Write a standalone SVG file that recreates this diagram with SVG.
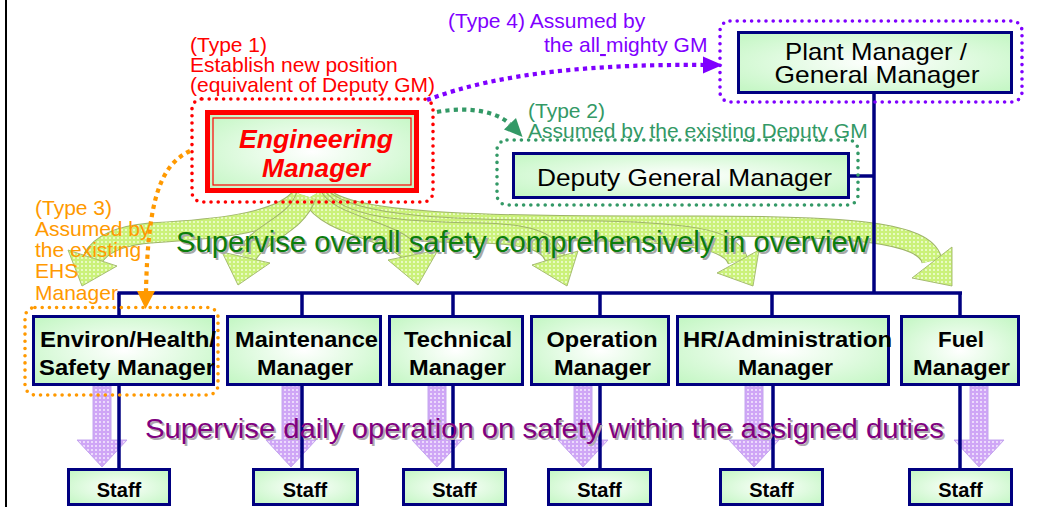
<svg xmlns="http://www.w3.org/2000/svg" xmlns:xlink="http://www.w3.org/1999/xlink" width="1053" height="507" viewBox="0 0 1053 507">
  <style>
    text { font-family: "Liberation Sans", Arial, sans-serif; }
    .box { fill: url(#boxFill); stroke: #000080; stroke-width: 3; }
    .lbl { font-size: 22px; font-weight: bold; fill: #000; }
    .staff { font-size: 20px; font-weight: bold; fill: #000; text-anchor: middle; }
    .mid { text-anchor: middle; }
    .wire { stroke: #000080; stroke-width: 3.5; fill: none; }
    .note { font-size: 21px; }
    .ring { fill: none; stroke-width: 3.6; stroke-linecap: round; stroke-dasharray: 0 7.2; }
    .dash { fill: none; stroke-width: 4.2; stroke-dasharray: 4.2 4.2; }
    .gbody-o { fill: none; stroke: #9fb56a; stroke-width: 21; }
    .gbody { fill: none; stroke: url(#greenDots); stroke-width: 19; }
    .ghead { fill: url(#greenDots); stroke: #9fb56a; stroke-width: 0.9; stroke-linejoin: round; }
    .lav { fill: url(#lavDots); stroke: #c4a6ee; stroke-width: 1; }
  </style>
  <defs>
    <radialGradient id="boxFill" cx="50%" cy="50%" r="65%">
      <stop offset="0" stop-color="#ffffff"/>
      <stop offset="1" stop-color="#c6f7c6"/>
    </radialGradient>
    <pattern id="greenDots" width="4" height="4" patternUnits="userSpaceOnUse">
      <rect width="4" height="4" fill="#cbf17a"/>
      <circle cx="2" cy="2" r="1" fill="#f2ffdc"/>
    </pattern>
    <pattern id="lavDots" width="4" height="4" patternUnits="userSpaceOnUse">
      <rect width="4" height="4" fill="#cfa6f6"/>
      <circle cx="2" cy="2" r="1" fill="#f6ecff"/>
    </pattern>
    <!-- downward block arrow, centred on x = 0 -->
    <path id="downArrow" d="M -9,386 L 9,386 L 9,440 L 25,440 L 0,467 L -25,440 L -9,440 Z"/>
  </defs>

  <!-- page edge -->
  <line x1="6" y1="0" x2="6" y2="507" stroke="#000" stroke-width="2"/>

  <!-- broad "overall safety" arrows fanning out from the engineering manager -->
  <g id="overall-arrows">
    <path class="gbody-o" d="M 322,196 C 350,226 500,226 700,226 C 850,226 926,232 932,261"/>
    <path class="gbody" d="M 322,196 C 350,226 500,226 700,226 C 850,226 926,232 932,261"/>
    <polygon class="ghead" points="912,278 952,247 952,286"/>
    <path class="gbody-o" d="M 319,196 C 350,228 450,230 600,231 C 700,233 732,242 738,261"/>
    <path class="gbody" d="M 319,196 C 350,228 450,230 600,231 C 700,233 732,242 738,261"/>
    <polygon class="ghead" points="717,273 759,250 753,286"/>
    <path class="gbody-o" d="M 316,196 C 340,228 400,232 480,233 C 530,234 550,242 555,258"/>
    <path class="gbody" d="M 316,196 C 340,228 400,232 480,233 C 530,234 550,242 555,258"/>
    <polygon class="ghead" points="532,265 578,251 567,286"/>
    <path class="gbody-o" d="M 312,196 C 330,228 392,228 413,255"/>
    <path class="gbody" d="M 312,196 C 330,228 392,228 413,255"/>
    <polygon class="ghead" points="388,260 438,250 418,285"/>
    <path class="gbody-o" d="M 302,196 C 280,226 200,230 150,233 C 115,236 100,246 93,258"/>
    <path class="gbody" d="M 302,196 C 280,226 200,230 150,233 C 115,236 100,246 93,258"/>
    <polygon class="ghead" points="68,250 117,266 82,286"/>
    <path class="gbody-o" d="M 306,196 C 296,226 258,232 246,257"/>
    <path class="gbody" d="M 306,196 C 296,226 258,232 246,257"/>
    <polygon class="ghead" points="222,252 270,263 238,285"/>
  </g>

  <!-- daily-operation arrows from each manager to staff -->
  <g id="daily-arrows">
    <use href="#downArrow" class="lav" x="102"/>
    <use href="#downArrow" class="lav" x="291"/>
    <use href="#downArrow" class="lav" x="437"/>
    <use href="#downArrow" class="lav" x="583"/>
    <use href="#downArrow" class="lav" x="754"/>
    <use href="#downArrow" class="lav" x="979"/>
  </g>

  <!-- reporting lines -->
  <g id="connectors">
    <line class="wire" x1="874" y1="94" x2="874" y2="293"/>
    <line class="wire" x1="850" y1="176" x2="874" y2="176"/>
    <line class="wire" x1="117.5" y1="293" x2="962" y2="293"/>
    <line class="wire" x1="119" y1="293" x2="119" y2="316"/>
    <line class="wire" x1="302" y1="293" x2="302" y2="316"/>
    <line class="wire" x1="453" y1="293" x2="453" y2="316"/>
    <line class="wire" x1="600" y1="293" x2="600" y2="316"/>
    <line class="wire" x1="772" y1="293" x2="772" y2="316"/>
    <line class="wire" x1="960" y1="293" x2="960" y2="316"/>
    <line class="wire" x1="119" y1="385" x2="119" y2="469"/>
    <line class="wire" x1="302" y1="385" x2="302" y2="469"/>
    <line class="wire" x1="453" y1="385" x2="453" y2="469"/>
    <line class="wire" x1="600" y1="385" x2="600" y2="469"/>
    <line class="wire" x1="773" y1="385" x2="773" y2="469"/>
    <line class="wire" x1="960" y1="385" x2="960" y2="469"/>
  </g>

  <!-- top management -->
  <g id="plant-manager">
    <rect class="box" x="738.5" y="32.5" width="273" height="60"/>
    <text class="mid" x="876" y="60" font-size="24" textLength="182" lengthAdjust="spacingAndGlyphs">Plant Manager /</text>
    <text class="mid" x="877" y="83" font-size="24" textLength="205" lengthAdjust="spacingAndGlyphs">General Manager</text>
  </g>
  <g id="deputy-gm">
    <rect class="box" x="513.5" y="153.5" width="335" height="44"/>
    <text x="537" y="186" font-size="24" textLength="295" lengthAdjust="spacingAndGlyphs">Deputy General Manager</text>
  </g>
  <g id="engineering-manager">
    <rect x="207.5" y="112.5" width="209" height="78" fill="url(#boxFill)" stroke="#ff0000" stroke-width="5"/>
    <rect x="213" y="118" width="198" height="67" fill="none" stroke="#ff0000" stroke-width="1.2"/>
    <text class="mid" x="316" y="148" font-size="26" font-weight="bold" font-style="italic" fill="#ff0000" textLength="154" lengthAdjust="spacingAndGlyphs">Engineering</text>
    <text class="mid" x="316" y="177" font-size="26" font-weight="bold" font-style="italic" fill="#ff0000" textLength="108" lengthAdjust="spacingAndGlyphs">Manager</text>
  </g>

  <!-- department managers -->
  <g id="ehs-manager">
    <rect class="box" x="33.5" y="316.5" width="180" height="68"/>
    <text class="lbl" x="40" y="347" textLength="176" lengthAdjust="spacingAndGlyphs">Environ/Health/</text>
    <text class="lbl" x="39" y="375" textLength="176" lengthAdjust="spacingAndGlyphs">Safety Manager</text>
  </g>
  <g id="maintenance-manager">
    <rect class="box" x="227.5" y="316.5" width="153" height="68"/>
    <text class="lbl mid" x="306.5" y="347" textLength="143" lengthAdjust="spacingAndGlyphs">Maintenance</text>
    <text class="lbl mid" x="305" y="375" textLength="96" lengthAdjust="spacingAndGlyphs">Manager</text>
  </g>
  <g id="technical-manager">
    <rect class="box" x="389.5" y="316.5" width="133" height="68"/>
    <text class="lbl mid" x="458" y="347" textLength="108" lengthAdjust="spacingAndGlyphs">Technical</text>
    <text class="lbl mid" x="457.5" y="375" textLength="97" lengthAdjust="spacingAndGlyphs">Manager</text>
  </g>
  <g id="operation-manager">
    <rect class="box" x="531.5" y="316.5" width="137" height="68"/>
    <text class="lbl mid" x="602" y="347" textLength="111" lengthAdjust="spacingAndGlyphs">Operation</text>
    <text class="lbl mid" x="602.5" y="375" textLength="97" lengthAdjust="spacingAndGlyphs">Manager</text>
  </g>
  <g id="hr-admin-manager">
    <rect class="box" x="677.5" y="316.5" width="211" height="68"/>
    <text class="lbl mid" x="787.5" y="347" textLength="209" lengthAdjust="spacingAndGlyphs">HR/Administration</text>
    <text class="lbl mid" x="785.5" y="375" textLength="95" lengthAdjust="spacingAndGlyphs">Manager</text>
  </g>
  <g id="fuel-manager">
    <rect class="box" x="901.5" y="316.5" width="117" height="68"/>
    <text class="lbl mid" x="961" y="347" textLength="46" lengthAdjust="spacingAndGlyphs">Fuel</text>
    <text class="lbl mid" x="961.5" y="375" textLength="97" lengthAdjust="spacingAndGlyphs">Manager</text>
  </g>

  <!-- staff -->
  <g id="staff-1"><rect class="box" x="68.5" y="469.5" width="101" height="35"/><text class="staff" x="119" y="497">Staff</text></g>
  <g id="staff-2"><rect class="box" x="253.5" y="469.5" width="104" height="35"/><text class="staff" x="305" y="497">Staff</text></g>
  <g id="staff-3"><rect class="box" x="403.5" y="469.5" width="102" height="35"/><text class="staff" x="454.5" y="497">Staff</text></g>
  <g id="staff-4"><rect class="box" x="548.5" y="469.5" width="102" height="35"/><text class="staff" x="599.5" y="497">Staff</text></g>
  <g id="staff-5"><rect class="box" x="720.5" y="469.5" width="102" height="35"/><text class="staff" x="771.5" y="497">Staff</text></g>
  <g id="staff-6"><rect class="box" x="909.5" y="469.5" width="102" height="35"/><text class="staff" x="960.5" y="497">Staff</text></g>

  <!-- arrow captions -->
  <g id="overall-caption">
    <text x="178" y="254" font-size="29" fill="#a8a8a8" textLength="693" lengthAdjust="spacingAndGlyphs">Supervise overall safety comprehensively in overview</text>
    <text x="176" y="252" font-size="29" fill="#0b7d0b" textLength="693" lengthAdjust="spacingAndGlyphs">Supervise overall safety comprehensively in overview</text>
  </g>
  <g id="daily-caption">
    <text x="147" y="440" font-size="28" fill="#b0a8b0" textLength="799" lengthAdjust="spacingAndGlyphs">Supervise daily operation on safety within the assigned duties</text>
    <text x="145" y="438" font-size="28" fill="#800080" textLength="799" lengthAdjust="spacingAndGlyphs">Supervise daily operation on safety within the assigned duties</text>
  </g>

  <!-- option 1: new post -->
  <g id="type1">
    <rect class="ring" x="192" y="99" width="241" height="103" rx="10" stroke="#ff0000"/>
    <text class="note" fill="#ff0000" x="190" y="52">(Type 1)</text>
    <text class="note" fill="#ff0000" x="190" y="72">Establish new position</text>
    <text class="note" fill="#ff0000" x="190" y="92">(equivalent of Deputy GM)</text>
  </g>

  <!-- option 2: deputy GM -->
  <g id="type2">
    <rect class="ring" x="497" y="140" width="361" height="65" rx="10" stroke="#339966"/>
    <path class="dash" stroke="#339966" d="M 437,112 C 470,106 497,112 510,124"/>
    <polygon fill="#339966" points="504,129.5 516,118 522.5,137"/>
    <text class="note" fill="#339966" x="528" y="118">(Type 2)</text>
    <text class="note" fill="#339966" x="528" y="138">Assumed by the existing Deputy GM</text>
  </g>

  <!-- option 3: EHS manager -->
  <g id="type3">
    <rect class="ring" x="25" y="307.5" width="193" height="87.5" rx="10" stroke="#ff9900"/>
    <path class="dash" stroke="#ff9900" d="M 190,151 C 160,165 148,200 146,291"/>
    <polygon fill="#ff9900" points="137,291 155,291 145.5,309"/>
    <text class="note" fill="#ff9900" x="35" y="215">(Type 3)</text>
    <text class="note" fill="#ff9900" x="35" y="236">Assumed by</text>
    <text class="note" fill="#ff9900" x="35" y="257">the existing</text>
    <text class="note" fill="#ff9900" x="35" y="278">EHS</text>
    <text class="note" fill="#ff9900" x="35" y="300">Manager</text>
  </g>

  <!-- option 4: general manager -->
  <g id="type4">
    <rect class="ring" x="720" y="21" width="302" height="81" rx="10" stroke="#7f00ff"/>
    <path class="dash" stroke="#7f00ff" d="M 427,100 C 500,72 600,64 704,65"/>
    <polygon fill="#7f00ff" points="703,56.5 722.5,65 703,73.5"/>
    <text class="note" fill="#7f00ff" x="448" y="28">(Type 4) Assumed by</text>
    <text class="note" fill="#7f00ff" x="544" y="52">the all<tspan text-decoration="underline"> </tspan>mighty GM</text>
  </g>
</svg>
